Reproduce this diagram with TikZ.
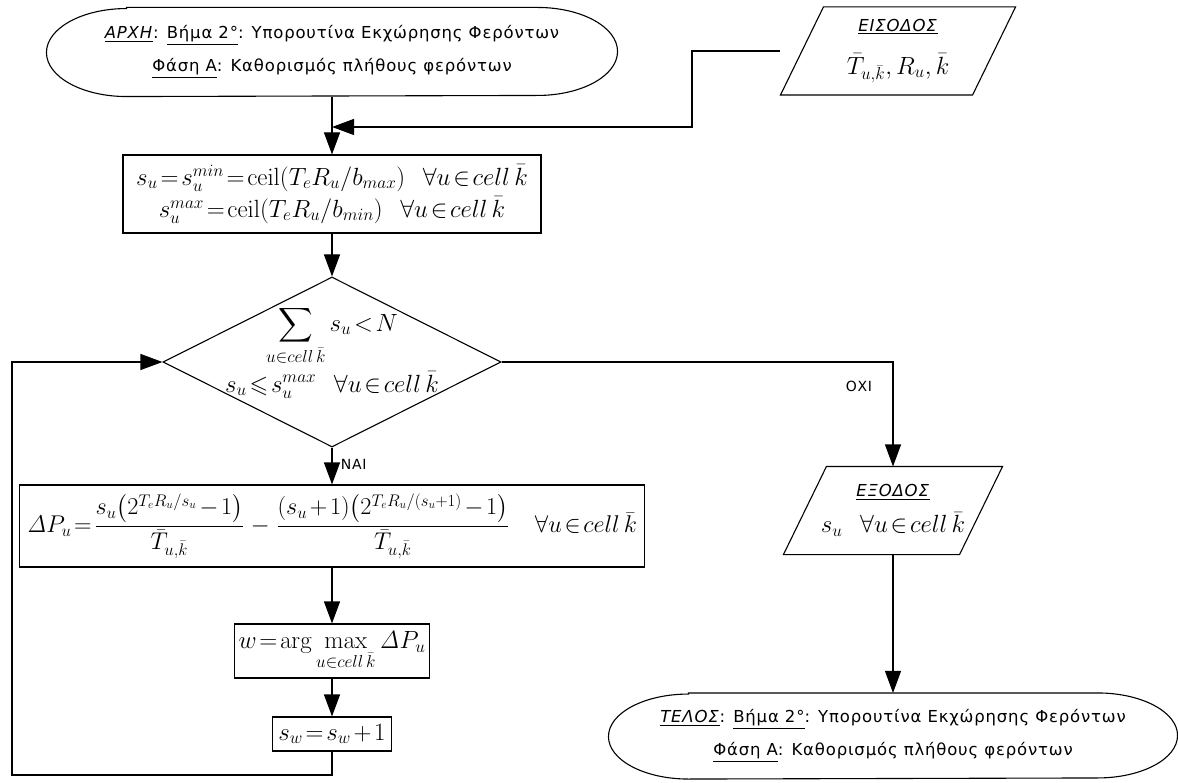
\documentclass[tikz,border=0pt]{standalone}
\usepackage{amsmath,amssymb,graphicx}
\usepackage[no-math]{fontspec}
\setmainfont{DejaVu Sans}[LetterSpace=5]
\usetikzlibrary{arrows.meta,shapes.geometric}

\newcommand\termfont{\fontsize{16.5}{33}\selectfont}
\newcommand\lblfont{\fontsize{14}{16}\selectfont}
\newcommand\eqfont{\fontsize{24}{30}\selectfont\thickmuskip=2mu plus 1mu\medmuskip=2mu}
\newcommand\cellk{cell\,\bar k}
% centre a formula without letting it widen its box
\newcommand\fixw[1]{\makebox[0pt]{#1}}

\begin{document}
\begin{tikzpicture}[x=1pt,y=-1pt,
  line width=1.1pt,
  arr/.style={-{Triangle[length=22pt,width=16pt]}},
  box/.style={draw,rectangle,inner sep=0pt,align=center,font=\eqfont},
  term/.style={rectangle,inner sep=0pt,align=center,font=\termfont},
  io/.style={rectangle,inner sep=0pt,align=center,font=\eqfont},
  dec/.style={draw,diamond,inner sep=0pt},
  dectext/.style={align=center,font=\eqfont},
  lbl/.style={font=\lblfont}]

\path[use as bounding box] (0,0) rectangle (1178,783);

% start terminal
\node[term, minimum width=570pt, minimum height=88pt] (start) at (332,52)
  {\underline{\textit{ΑΡΧΗ}}: \underline{Βήμα 2°}: Υπορουτίνα Εκχώρησης Φερόντων\\
   \underline{Φάση Α}: Καθορισμός πλήθους φερόντων};
\draw ([xshift=80pt]start.north west) -- ([xshift=-80pt]start.north east)
  arc[start angle=90,end angle=-90,x radius=80pt,y radius=44pt]
  -- ([xshift=80pt]start.south west)
  arc[start angle=270,end angle=90,x radius=80pt,y radius=44pt] -- cycle;

% input
\node[io, minimum width=234pt, minimum height=87pt] (in) at (898,51)
  {{\termfont\underline{\textit{ΕΙΣΟΔΟΣ}}}\\[13pt] \fixw{$\bar T_{u,\bar k}, R_u, \bar k$}};
\draw (in.south west) -- ([xshift=43pt]in.north west) -- (in.north east)
  -- ([xshift=-43pt]in.south east) -- cycle;

% initialisation
\node[box, minimum width=418pt, minimum height=78pt] (b1) at (332,194)
  {\fixw{$s_u=s_u^{min}=\mathrm{ceil}(T_e R_u/b_{max})\ \ \forall u\in\cellk$}\\[2pt]
   \fixw{$s_u^{max}=\mathrm{ceil}(T_e R_u/b_{min})\ \ \forall u\in\cellk$}};

% decision
\node[dec, minimum width=338pt, minimum height=170pt] (dia) at (332,362) {};
\node[dectext] (diatext) at (332,352)
  {\fixw{$\displaystyle\sum_{u\in\cellk} s_u<N$}\\[5pt]
   \fixw{$s_u\leqslant s_u^{max}\ \ \forall u\in\cellk$}};

% power difference, scaled to fill its box
\node[box, minimum width=625pt, minimum height=82pt] (dp) at (332,526)
  {\fixw{\resizebox{610pt}{!}{$\mathit{\Delta}P_u=\dfrac{s_u\bigl(2^{T_eR_u/s_u}-1\bigr)}{\bar T_{u,\bar k}}
   \,-\,\dfrac{(s_u+1)\bigl(2^{T_eR_u/(s_u+1)}-1\bigr)}{\bar T_{u,\bar k}}\ \ \ \forall u\in\cellk$}}};

% selection and update
\node[box, minimum width=195pt, minimum height=54pt] (wb) at (332,651)
  {\fixw{$\displaystyle w=\arg\max_{u\in\cellk}\mathit{\Delta}P_u$}};
\node[box, minimum width=119pt, minimum height=34pt] (sb) at (332,734)
  {\fixw{$s_w=s_w+1$}};

% output
\node[io, minimum width=218pt, minimum height=87pt] (out) at (893,510.5)
  {{\termfont\underline{\textit{ΕΞΟΔΟΣ}}}\\[6pt] \fixw{$s_u\ \ \forall u\in\cellk$}};
\draw (out.south west) -- ([xshift=43pt]out.north west) -- (out.north east)
  -- ([xshift=-43pt]out.south east) -- cycle;

% end terminal
\node[term, minimum width=568pt, minimum height=85pt] (stop) at (893,736)
  {\underline{\textit{ΤΕΛΟΣ}}: \underline{Βήμα 2°}: Υπορουτίνα Εκχώρησης Φερόντων\\
   \underline{Φάση Α}: Καθορισμός πλήθους φερόντων};
\draw ([xshift=80pt]stop.north west) -- ([xshift=-80pt]stop.north east)
  arc[start angle=90,end angle=-90,x radius=80pt,y radius=42.5pt]
  -- ([xshift=80pt]stop.south west)
  arc[start angle=270,end angle=90,x radius=80pt,y radius=42.5pt] -- cycle;

% connectors
\coordinate (bend) at (692,127);
\coordinate (join) at (start.south |- bend);
\draw[arr] (start.south) -- (b1.north);
\draw[arr] (in.west) -| (bend) -- (join);
\draw[arr] (b1.south) -- (dia.north);
\draw[arr] (dia.south) -- (dp.north);
\node[lbl, anchor=west] (nai) at (337,464) {ΝΑΙ};
\draw[arr] (dp.south) -- (wb.north);
\draw[arr] (wb.south) -- (sb.north);
\coordinate (lb) at (12,775);
\draw[arr] (sb.south) |- (lb) |- (dia.west);
\draw[arr] (dia.east) -| (out.north);
\node[lbl] (oxi) at (859,386) {ΟΧΙ};
\draw[arr] (out.south) -- (stop.north);
\end{tikzpicture}
\end{document}
